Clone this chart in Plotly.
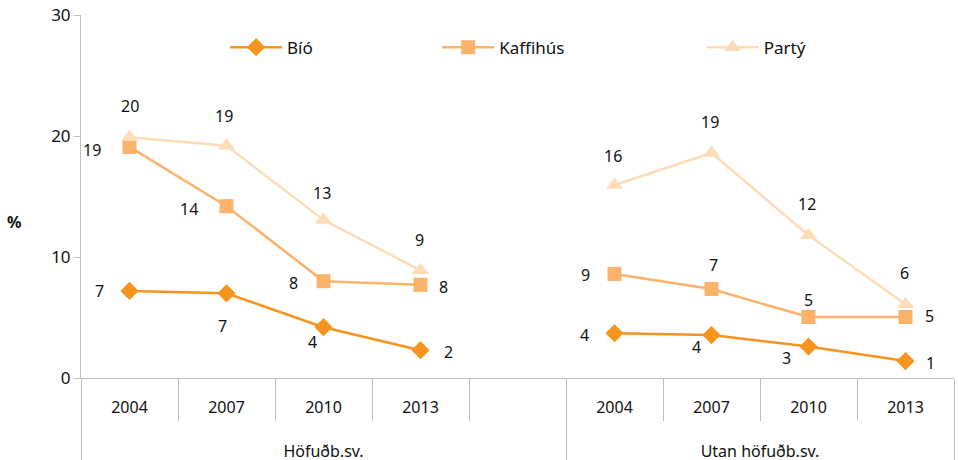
import plotly.graph_objects as go

groups = ["Höfuðb.sv."] * 5 + ["Utan höfuðb.sv."] * 4
years = ["2004", "2007", "2010", "2013", " ", "2004", "2007", "2010", "2013"]

bio = [7.2, 7.0, 4.2, 2.3, None, 3.7, 3.55, 2.6, 1.4]
kaffihus = [19.1, 14.2, 8.0, 7.7, None, 8.6, 7.35, 5.04, 5.04]
party = [19.9, 19.2, 13.06, 8.9, None, 15.95, 18.6, 11.8, 6.1]

series_names = ["Bíó", "Kaffihús", "Partý"]
series_values = [bio, kaffihus, party]
colors = ["#F7941D", "#FBB36B", "#FDDCB8"]
symbols = ["diamond", "square", "triangle-up"]
sizes = [14, 14, 15]
legend_ids = ["legend", "legend2", "legend3"]
legend_x = [0.165, 0.408, 0.711]

# label offsets (px) per point
offsets = [
    [(-30, 0), (-4, -33), (-11, -15), (28, -2), None, (-30, -2), (-15, -12), (-22, -11), (25, -2)],
    [(-38, -3), (-38, -3), (-30, -2), (23, -2), None, (-29, -1), (2, 24), (0, 17), (24, 1)],
    [(0, 31), (-3, 30), (-2, 27), (-1, 30), None, (-2, 29), (-2, 31), (-2, 31), (-1, 31)],
]

LABEL_SPAN = "<span style='font-size:16px'>{}</span>"
# year labels get empty extra lines to push the group row down
year_labels = [LABEL_SPAN.format(y) + "<br> <br> " for y in years]
group_labels = [LABEL_SPAN.format(g) for g in groups]

FONT = "Noto Sans"
fig = go.Figure()
for name, vals, c, s, sz, lg in zip(series_names, series_values, colors, symbols, sizes, legend_ids):
    fig.add_trace(go.Scatter(
        x=[group_labels, year_labels], y=vals, name=name, mode="lines+markers",
        line=dict(color=c, width=2.5),
        marker=dict(symbol=s, size=sz, color=c),
        connectgaps=False, legend=lg,
    ))

annotations = []
for vals, offs in zip(series_values, offsets):
    for i, (v, o) in enumerate(zip(vals, offs)):
        if v is None:
            continue
        annotations.append(dict(
            x=i, y=v, xref="x", yref="y", text=f"{v:.0f}", showarrow=False,
            xshift=o[0], yshift=o[1], font=dict(family=FONT, size=16, color="#111"),
        ))

annotations.append(dict(
    x=-0.087, y=0.43, xref="paper", yref="paper", text="<b>%</b>", showarrow=False,
    font=dict(family=FONT, size=16, color="#111"),
))

legend_style = dict(orientation="h", y=0.91, yanchor="middle", xanchor="left",
                    itemwidth=52, font=dict(size=17), bgcolor="rgba(0,0,0,0)")

fig.update_layout(
    width=958, height=460,
    margin=dict(l=81, r=4, t=15, b=82, autoexpand=False),
    plot_bgcolor="white", paper_bgcolor="white",
    font=dict(family=FONT, size=16, color="#111"),
    showlegend=True,
    legend=dict(x=legend_x[0], **legend_style),
    legend2=dict(x=legend_x[1], **legend_style),
    legend3=dict(x=legend_x[2], **legend_style),
    annotations=annotations,
)
fig.update_yaxes(range=[0, 30], tickvals=[0, 10, 20, 30], showgrid=False, zeroline=False,
                 showline=True, linecolor="#BFBFBF", linewidth=1, ticks="outside", ticklen=6,
                 tickcolor="#BFBFBF", tickfont=dict(size=17), automargin=False)
fig.update_xaxes(type="multicategory", range=[-0.5, 8.5], showgrid=False, showline=True,
                 linecolor="#BFBFBF", linewidth=1, ticks="outside", tickson="boundaries",
                 ticklen=42, tickcolor="#BFBFBF", showdividers=True, dividercolor="#BFBFBF",
                 dividerwidth=1, tickfont=dict(size=14.5, color="#111"), automargin=False,
                 ticklabelstandoff=17)

fig.write_html("out.html", config={"displayModeBar": False},
               post_script="document.body.style.margin='0';")
